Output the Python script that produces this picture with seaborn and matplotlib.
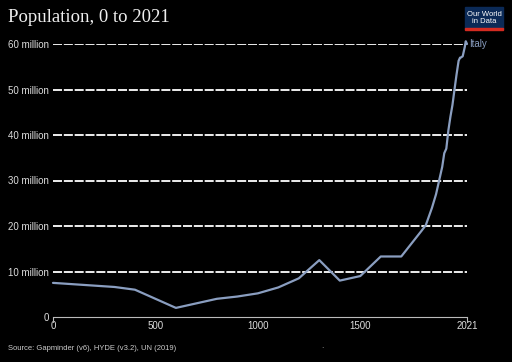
import pandas as pd
import matplotlib.pyplot as plt
import seaborn as sns
from matplotlib.patches import Rectangle

# Italy population
years = [0, 100, 200, 300, 400, 500, 600, 700, 800, 900, 1000, 1100, 1200, 1300,
         1400, 1500, 1600, 1700, 1800, 1820, 1850, 1870, 1900, 1910, 1920, 1930,
         1940, 1950, 1960, 1970, 1980, 1987, 1990, 2000, 2010, 2015, 2021]
population_m = [7.5, 7.2, 6.9, 6.6, 6.0, 4.0, 2.0, 3.0, 4.0, 4.5, 5.2, 6.5, 8.5, 12.5,
                8.0, 9.0, 13.3, 13.3, 19.0, 20.2, 24.0, 27.0, 33.0, 36.0, 37.0, 41.0,
                44.0, 46.6, 50.0, 53.3, 56.3, 57.0, 57.0, 57.3, 59.3, 60.6, 60.0]
x_ticks = [0, 500, 1000, 1500, 2021]
y_ticks = [0, 10, 20, 30, 40, 50, 60]
y_labels = ['0', '10 million', '20 million', '30 million', '40 million', '50 million', '60 million']

df = pd.DataFrame({'Year': years, 'Population': population_m})

sns.set_style('dark', {'axes.facecolor': 'black', 'figure.facecolor': 'black'})
plt.rcParams['font.family'] = ['Liberation Sans', 'DejaVu Sans']

fig = plt.figure(figsize=(5.12, 3.62), dpi=100)
ax = fig.add_axes([53 / 512, 1 - 317 / 362, 414 / 512, (317 - 44) / 362])

for v in y_ticks[1:]:
    ax.axhline(v, color='white', lw=1.3, ls=(0, (5, 1)), zorder=1)

line_color = '#8a9ec0'
sns.lineplot(data=df, x='Year', y='Population', ax=ax, color=line_color, lw=1.6,
             zorder=3, clip_on=False)
ax.text(2030, 60.0, 'Italy', color=line_color, fontsize=7, va='center', ha='left')

ax.set_xlim(0, 2021)
ax.set_ylim(0, 60)
ax.set_xticks(x_ticks)
ax.set_xticklabels([str(t) for t in x_ticks], color='#dddddd', fontsize=7)
ax.set_yticks(y_ticks)
ax.set_yticklabels(y_labels, color='#dddddd', fontsize=7)
ax.tick_params(axis='y', length=0, pad=3)
ax.tick_params(axis='x', length=0, pad=3)
ax.grid(False)
ax.set_xlabel('')
ax.set_ylabel('')
for s in ['top', 'right', 'left']:
    ax.spines[s].set_visible(False)
ax.spines['bottom'].set_visible(True)
ax.spines['bottom'].set_color('#bbbbbb')
ax.spines['bottom'].set_linewidth(0.8)
for xt in [0, 2021]:
    ax.plot([xt, xt], [0, -1.0], color='#bbbbbb', lw=0.8, clip_on=False)

fig.text(8 / 512, 1 - 17 / 362, 'Population, 0 to 2021', color='#eeeeee',
         fontsize=13.5, family=['Liberation Serif', 'DejaVu Serif'], va='center')

# logo
fig.patches.append(Rectangle((465 / 512, 1 - 29 / 362), 38 / 512, 22 / 362,
                             transform=fig.transFigure, color='#0b2a57', figure=fig))
fig.patches.append(Rectangle((465 / 512, 1 - 30 / 362), 38 / 512, 2 / 362,
                             transform=fig.transFigure, color='#d42b21', figure=fig))
fig.text(484 / 512, 1 - 18 / 362, 'Our World\nin Data', color='white', fontsize=5.5,
         ha='center', va='center', linespacing=0.95)

fig.text(8 / 512, 1 - 349 / 362, 'Source: Gapminder (v6), HYDE (v3.2), UN (2019)',
         color='#cccccc', fontsize=5.5, va='center')
fig.text(321 / 512, 1 - 349 / 362, '·', color='#cccccc', fontsize=5, va='center')

fig.savefig('out.png', dpi=100, facecolor='black')
